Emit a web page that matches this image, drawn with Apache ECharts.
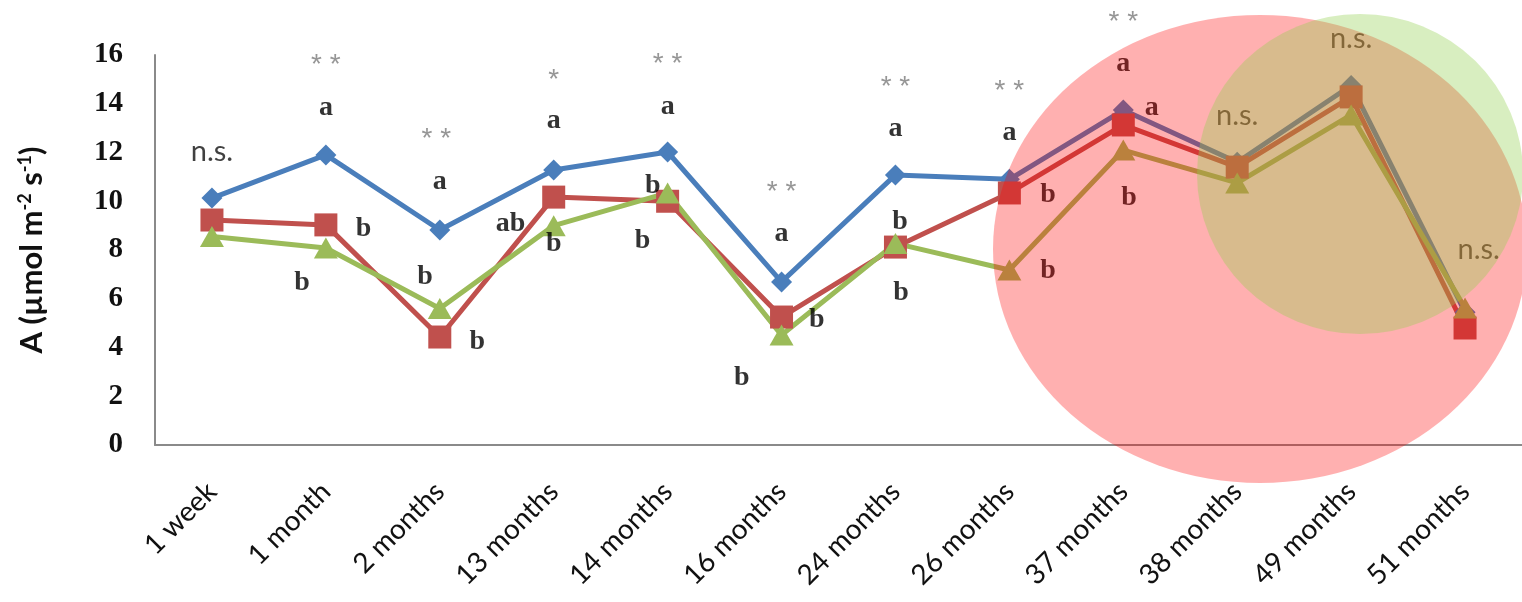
<!DOCTYPE html>
<html>
<head>
<meta charset="utf-8">
<script src="https://cdn.jsdelivr.net/npm/echarts@6/dist/echarts.min.js"></script>
<style>
html,body{margin:0;padding:0;background:#fff;}
#chart{width:1522px;height:602px;}
</style>
</head>
<body>
<div id="chart"></div>
<script>
// ---- data ----
const categories = ['1 week','1 month','2 months','13 months','14 months','16 months','24 months','26 months','37 months','38 months','49 months','51 months'];
const seriesBlue  = [10.13, 11.90, 8.82, 11.28, 12.02, 6.69, 11.08, 10.90, 13.74, 11.60, 14.75, 5.45];
const seriesRed   = [9.23, 9.03, 4.43, 10.17, 10.00, 5.25, 8.12, 10.34, 13.13, 11.40, 14.28, 4.80];
const seriesGreen = [8.55, 8.08, 5.60, 9.00, 10.34, 4.51, 8.27, 7.18, 12.10, 10.75, 13.54, 5.62];
const yMin = 0, yMax = 16, yStep = 2;

// significance annotations (x in category units, y in data units)
const sigX = [0, 1, 1.97, 3, 4, 5, 6, 7, 8, 9, 10, 11.12];
const sigY = [12.02, 15.57, 12.54, 14.96, 15.61, 10.36, 14.67, 14.51, 17.34, 13.52, 16.68, 8.02];
const sigText = ['n.s.','* *','* *','*','* *','* *','* *','* *','* *','n.s.','n.s.','n.s.'];

// letter annotations
const letX = [1, 1.33, 0.79, 2, 1.87, 2.33, 3, 2.62, 3, 4, 3.87, 3.78, 5, 5.31, 4.65, 6, 6.04, 6.05, 7, 7.34, 7.34, 8, 8.25, 8.05];
const letY = [13.83, 8.86, 6.65, 10.79, 6.89, 4.23, 13.29, 9.09, 8.25, 13.87, 10.63, 8.37, 8.66, 5.13, 2.75, 12.96, 9.15, 6.24, 12.8, 10.26, 7.14, 15.63, 13.83, 10.13];
const letText = ['a','b','b','a','b','b','a','ab','b','a','b','b','a','b','b','a','b','b','a','b','b','a','a','b'];

const chart = echarts.init(document.getElementById('chart'), null, {renderer:'canvas'});

const lineBase = (name, data, color, symbol, size) => ({
  name, type:'line', data, xAxisIndex:0, yAxisIndex:0,
  symbol, symbolSize:size, showSymbol:true,
  lineStyle:{width:5, color},
  itemStyle:{color},
  silent:true, z:2
});

const option = {
  backgroundColor:'#ffffff',
  animation:false,
  grid:{left:155, right:-16, top:55, bottom:157, containLabel:false},
  xAxis:[{
    type:'category', data:categories, boundaryGap:true,
    axisLine:{show:true, onZero:false, lineStyle:{color:'#8a8a8a', width:2}},
    axisTick:{show:false},
    axisLabel:{interval:0, rotate:45, fontFamily:'Lato', fontSize:28, color:'#111', margin:42, padding:[32,0,0,0]},
    splitLine:{show:false}
  },{
    type:'value', min:-0.5, max:11.5, show:false,
    axisLine:{onZero:false}
  }],
  yAxis:[{
    type:'value', min:yMin, max:yMax, interval:yStep,
    name:'{n|A (\u00b5mol m}{s|-2}{n| s}{s|-1}{n|)}',
    nameLocation:'middle', nameGap:107,
    nameTextStyle:{
      rich:{
        n:{fontFamily:'Lato', fontWeight:'bold', fontSize:31, color:'#111', lineHeight:32},
        s:{fontFamily:'Lato', fontWeight:'bold', fontSize:18, color:'#111', verticalAlign:'top', lineHeight:32}
      }
    },
    axisLine:{show:true, onZero:false, lineStyle:{color:'#8a8a8a', width:2}},
    axisTick:{show:false},
    splitLine:{show:false},
    axisLabel:{fontFamily:'Liberation Serif', fontWeight:'bold', fontSize:29, color:'#111', margin:32}
  }],
  series:[
    lineBase('Series 1', seriesBlue, '#4A7EBB', 'diamond', 21),
    lineBase('Series 2', seriesRed, '#C0504D', 'rect', 23),
    lineBase('Series 3', seriesGreen, '#9BBB59', 'triangle', [24,21]),
    {
      name:'sig', type:'scatter', xAxisIndex:1, yAxisIndex:0, clip:false, silent:true,
      data: sigX.map((x,i)=>[x, sigY[i]]),
      symbolSize:1, itemStyle:{color:'rgba(0,0,0,0)'}, z:5,
      label:{show:true, position:'inside', textBorderWidth:0,
        formatter:p => sigText[p.dataIndex]==='n.s.' ? '{ns|n.s.}' : '{st|' + sigText[p.dataIndex] + '}',
        rich:{
          ns:{fontFamily:'Lato', fontSize:29, color:'#111'},
          st:{fontFamily:'Liberation Sans', fontSize:28, color:'#7c7c7c'}
        }
      }
    },
    {
      name:'letters', type:'scatter', xAxisIndex:1, yAxisIndex:0, clip:false, silent:true,
      data: letX.map((x,i)=>[x, letY[i]]),
      symbolSize:1, itemStyle:{color:'rgba(0,0,0,0)'}, z:5,
      label:{show:true, position:'inside', textBorderWidth:0, color:'#000',
        fontFamily:'Liberation Serif', fontWeight:'bold', fontSize:28,
        formatter:p => letText[p.dataIndex]
      }
    }
  ],
  graphic:[
    {type:'circle', silent:true, z:100, x:1260, y:249, scaleX:267/234, scaleY:1,
      shape:{cx:0, cy:0, r:234}, style:{fill:'rgba(255,0,0,0.31)'}},
    {type:'circle', silent:true, z:101, x:1360, y:174, scaleX:163/160, scaleY:1,
      shape:{cx:0, cy:0, r:160}, style:{fill:'rgba(146,208,80,0.36)'}}
  ]
};
chart.setOption(option);
</script>
</body>
</html>
